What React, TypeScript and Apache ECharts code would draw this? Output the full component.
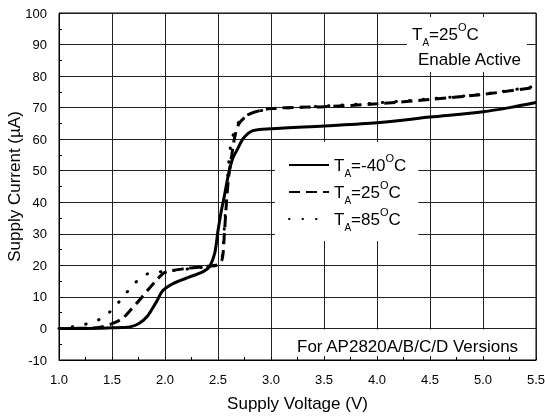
import React, { useEffect, useRef } from 'react';
import * as echarts from 'echarts';

const FONT = '"Liberation Sans", Arial, Helvetica, sans-serif';

const temps = ['-40', '25', '85'];
const seriesNames = ['TA=-40°C', 'TA=25°C', 'TA=85°C'];

const voltM40 = [1.0, 1.2, 1.4, 1.5, 1.6, 1.67, 1.75, 1.83, 1.92, 1.98, 2.08, 2.24, 2.36, 2.42, 2.47, 2.5, 2.53, 2.56, 2.6, 2.64, 2.68, 2.74, 2.83, 3.0, 3.5, 4.0, 4.5, 5.0, 5.25, 5.5];
const currM40 = [0, 0, 0.1, 0.2, 0.3, 0.5, 1.5, 3.7, 8.5, 12, 14.3, 16.4, 18, 19.6, 24, 31, 37, 42, 49, 54, 56.6, 60.3, 62.7, 63.3, 64.2, 65.2, 67, 68.7, 70, 71.6];

const volt25 = [1.0, 1.3, 1.4, 1.5, 1.6, 1.68, 1.76, 1.84, 1.92, 2.0, 2.2, 2.4, 2.5, 2.54, 2.56, 2.58, 2.6, 2.63, 2.66, 2.7, 2.8, 3.0, 3.5, 4.0, 4.5, 5.0, 5.5];
const curr25 = [0, 0.1, 0.5, 1.5, 3.2, 6, 9, 12.3, 15.3, 17.8, 19, 19.7, 20.2, 22, 30, 40, 48, 55, 61, 65, 68, 69.7, 70.3, 71.2, 72.6, 74.2, 76.5];

const volt85 = [1.0, 1.1, 1.2, 1.3, 1.4, 1.5, 1.6, 1.7, 1.8, 1.9, 2.0, 2.2, 2.4, 2.5, 2.54, 2.56, 2.58, 2.6, 2.62, 2.66, 2.72, 2.8, 2.9, 3.0, 3.5, 4.0, 4.5, 5.0, 5.5];
const curr85 = [0, 0.4, 1.0, 1.8, 3.2, 5.9, 9.8, 13.8, 16.8, 17.8, 18.1, 18.8, 19.6, 20.3, 23, 32, 42, 52, 58, 63, 66.5, 68, 69, 69.6, 70.5, 71.5, 72.8, 74.3, 76.8];

const volts = [voltM40, volt25, volt85];
const currents = [currM40, curr25, curr85];

const rich: any = {
  t: { fontFamily: FONT, fontSize: 17, lineHeight: 26, color: '#000' },
  s: { fontFamily: FONT, fontSize: 10, lineHeight: 10, verticalAlign: 'bottom', color: '#000' },
  o: { fontFamily: FONT, fontSize: 11, lineHeight: 12, verticalAlign: 'top', color: '#000' },
};
const taLabel = (t: string) => `{t|T}{s|A}{t|=${t}}{o|O}{t|C}`;

const lineTypes: any[] = ['solid', [11, 6], [0.5, 13]];
const caps = ['butt', 'butt', 'round'];

export default function App() {
  const ref = useRef<HTMLDivElement>(null);
  useEffect(() => {
    if (!ref.current) return;
    const chart = echarts.init(ref.current, undefined, { renderer: 'svg' });
    const axisText = { color: '#000', fontSize: 13, fontFamily: FONT };
    const option: any = {
      animation: false,
      grid: { left: 59, right: 9, top: 13, bottom: 56, show: true, borderColor: '#000', borderWidth: 1, containLabel: false, outerBoundsMode: 'none' },
      xAxis: {
        type: 'value', min: 1, max: 5.5, interval: 0.5,
        axisLine: { show: true, onZero: false, lineStyle: { color: '#000', width: 1 } },
        axisTick: { show: true, inside: true, length: 3, lineStyle: { color: '#000' } },
        minorTick: { show: true, splitNumber: 2, length: 3, lineStyle: { color: '#000' } },
        splitLine: { show: true, lineStyle: { color: '#222', width: 1 } },
        axisLabel: { ...axisText, margin: 13, formatter: (v: number) => v.toFixed(1) },
        name: 'Supply Voltage (V)', nameLocation: 'middle', nameGap: 35, nameMoveOverlap: false,
        nameTextStyle: { color: '#000', fontSize: 17, fontFamily: FONT },
      },
      yAxis: {
        type: 'value', min: -10, max: 100, interval: 10,
        axisLine: { show: true, onZero: false, lineStyle: { color: '#000', width: 1 } },
        axisTick: { show: true, inside: true, length: 3, lineStyle: { color: '#000' } },
        minorTick: { show: true, splitNumber: 2, length: 3, lineStyle: { color: '#000' } },
        splitLine: { show: true, lineStyle: { color: '#222', width: 1 } },
        axisLabel: { ...axisText, margin: 12 },
        name: 'Supply Current (µA)', nameLocation: 'middle', nameGap: 36, nameMoveOverlap: false,
        nameTextStyle: { color: '#000', fontSize: 17, fontFamily: FONT },
      },
      legend: {
        orient: 'vertical', left: 275, top: 142, padding: [10, 12, 9, 13],
        backgroundColor: '#fff', itemWidth: 40, itemHeight: 14, itemGap: 1,
        selectedMode: false, data: seriesNames,
        itemStyle: { opacity: 0 },
        formatter: (name: string) => taLabel(temps[seriesNames.indexOf(name)]),
        textStyle: { fontFamily: FONT, fontSize: 17, color: '#000', rich },
      },
      series: temps.map((t, k) => ({
        name: seriesNames[k], type: 'line', symbol: 'none', smooth: 0.3,
        data: volts[k].map((v, i) => [v, currents[k][i]]),
        lineStyle: { color: '#000', width: 3, type: lineTypes[k], cap: caps[k] },
        itemStyle: { color: '#000' },
        z: 3,
      })),
    };
    chart.setOption(option);
    const p0 = chart.convertToPixel({ gridIndex: 0 }, [3, 0]) as number[];
    const p1 = chart.convertToPixel({ gridIndex: 0 }, [5.5, -10]) as number[];
    chart.setOption({
      graphic: [
        { type: 'rect', z: 1, shape: { x: p0[0] + 1, y: p0[1] + 1, width: p1[0] - p0[0] - 2, height: p1[1] - p0[1] - 5 }, style: { fill: '#fff' } },
        { type: 'text', z: 1, style: { x: 297, y: 346, text: 'For AP2820A/B/C/D Versions', fontFamily: FONT, fontSize: 17, fill: '#000', verticalAlign: 'middle', align: 'left' } },
        { type: 'rect', z: 1, shape: { x: 407, y: 17, width: 120, height: 55 }, style: { fill: '#fff' } },
        { type: 'text', z: 1, style: { x: 412, y: 34, text: taLabel('25'), rich, fontFamily: FONT, fontSize: 17, fill: '#000', verticalAlign: 'middle', align: 'left' } },
        { type: 'text', z: 1, style: { x: 418, y: 59, text: 'Enable Active', fontFamily: FONT, fontSize: 17, fill: '#000', verticalAlign: 'middle', align: 'left' } },
      ],
    });
    return () => chart.dispose();
  }, []);
  return <div ref={ref} style={{ position: 'fixed', left: 0, top: 0, width: 545, height: 416 }} />;
}
